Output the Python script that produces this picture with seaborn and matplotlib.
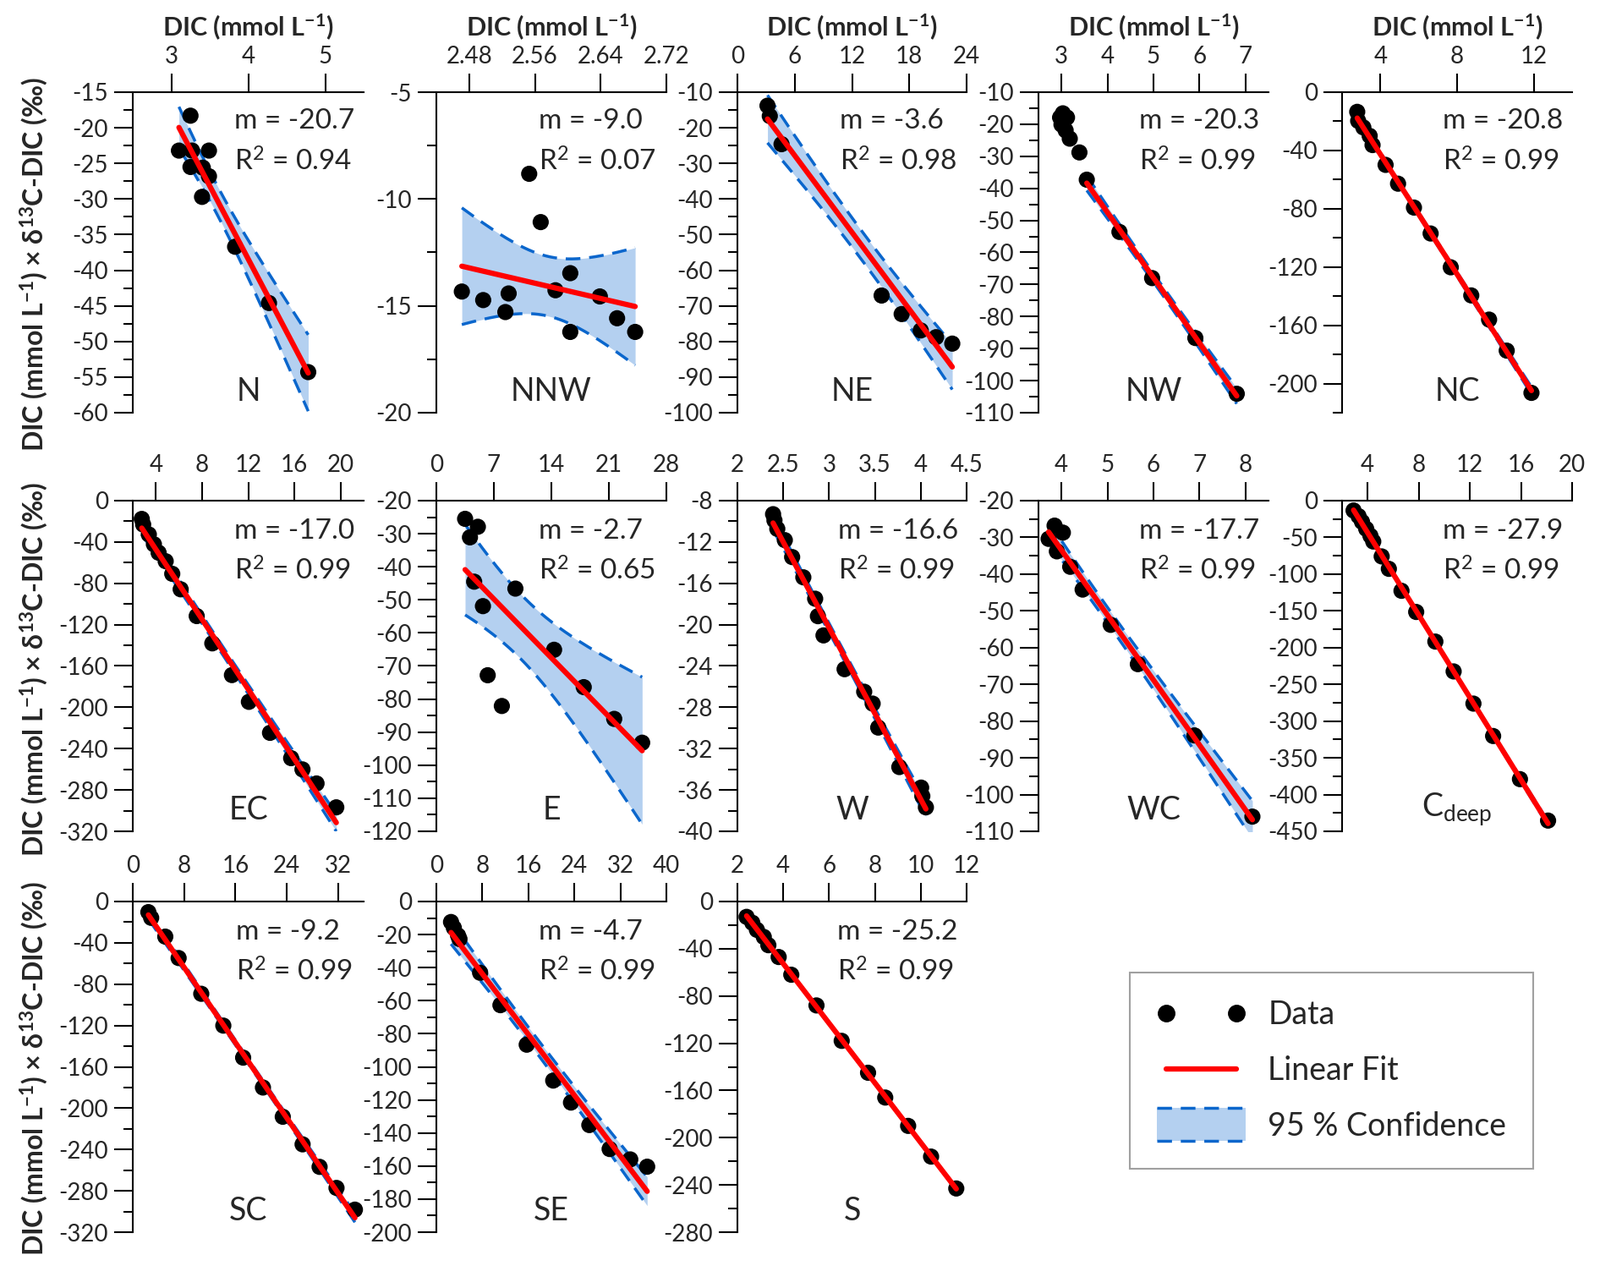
import math
import numpy as np
import matplotlib
matplotlib.use("Agg")
import matplotlib.pyplot as plt
from matplotlib.lines import Line2D
from matplotlib.patches import Rectangle, Patch
from matplotlib.legend_handler import HandlerBase
from matplotlib.ticker import MultipleLocator, FixedLocator, FuncFormatter
import seaborn as sns

# values: DIC (mmol L-1) and DIC x d13C-DIC (permil)
n_dic = [3.25, 3.10, 3.27, 3.49, 3.25, 3.41, 3.49, 3.40, 3.83, 4.27, 4.78]
n_val = [-18.3, -23.2, -23.2, -23.2, -25.5, -25.6, -26.8, -29.7, -36.7, -44.6, -54.3]

nnw_dic = [2.471, 2.497, 2.524, 2.528, 2.553, 2.567, 2.585, 2.603, 2.603, 2.639, 2.660, 2.682]
nnw_val = [-14.33, -14.73, -15.29, -14.42, -8.82, -11.08, -14.27, -13.47, -16.22, -14.56, -15.58, -16.22]

ne_dic = [3.15, 3.39, 4.62, 15.1, 17.2, 19.2, 20.8, 22.5]
ne_val = [-13.8, -16.7, -24.6, -67.1, -72.3, -76.9, -78.8, -80.6]

nw_dic = [3.03, 3.12, 2.97, 3.00, 3.09, 3.18, 3.39, 3.55, 4.26, 4.97, 5.91, 6.81]
nw_val = [-16.6, -17.9, -17.9, -20.1, -21.9, -24.5, -28.8, -37.3, -53.6, -68.0, -86.7, -104.1]

nc_dic = [2.79, 2.84, 3.11, 3.44, 3.59, 4.27, 4.92, 5.75, 6.62, 7.67, 8.74, 9.67, 10.59, 11.88]
nc_val = [-13.5, -19.7, -24.2, -30.0, -36.3, -49.9, -62.8, -79.2, -97.0, -120.2, -139.5, -156.1, -177.4, -206.4]

ec_dic = [2.78, 2.90, 3.39, 3.83, 4.24, 4.85, 5.42, 6.15, 7.54, 8.89, 10.59, 12.06, 13.89,
          15.72, 16.70, 17.92, 19.63]
ec_val = [-17.7, -23.1, -32.7, -42.2, -50.4, -58.6, -70.8, -85.8, -111.7, -138.1, -168.8, -194.7,
          -224.7, -249.2, -260.1, -273.7, -296.8]

e_dic = [3.50, 5.05, 4.09, 4.60, 5.67, 6.25, 7.97, 9.62, 14.33, 17.94, 21.65, 25.05]
e_val = [-25.5, -27.9, -31.1, -44.5, -51.9, -72.8, -82.1, -46.6, -65.1, -76.4, -86.0, -93.2]

w_dic = [2.389, 2.404, 2.435, 2.517, 2.597, 2.719, 2.848, 2.878, 2.939, 3.169, 3.383, 3.475,
         3.536, 3.766, 4.004, 4.017, 4.056]
w_val = [-9.31, -9.91, -10.73, -11.82, -13.46, -15.42, -17.49, -19.18, -21.04, -24.31, -26.49,
         -27.64, -29.96, -33.78, -35.77, -36.59, -37.68]

wc_dic = [3.85, 4.03, 3.72, 3.90, 4.19, 4.46, 5.07, 5.66, 6.89, 8.15]
wc_val = [-26.8, -28.7, -30.4, -33.8, -38.0, -44.2, -53.8, -64.5, -83.9, -106.0]

cd_dic = [2.90, 3.29, 3.56, 3.89, 4.22, 4.44, 5.10, 5.66, 6.65, 7.80, 9.30, 10.73, 12.28, 13.82,
          15.92, 18.12]
cd_val = [-13.4, -21.1, -28.8, -38.4, -47.9, -55.6, -75.9, -92.8, -122.7, -151.5, -191.8, -232.4,
          -276.2, -320.3, -379.0, -435.4]

sc_dic = [2.43, 2.87, 5.07, 7.15, 10.68, 14.12, 17.21, 20.30, 23.39, 26.48, 29.13, 31.77, 34.64]
sc_val = [-10.3, -15.8, -34.0, -54.7, -89.3, -120.1, -151.1, -180.0, -208.3, -235.0, -256.8,
          -277.2, -298.2]

se_dic = [2.55, 3.04, 3.78, 4.02, 7.61, 11.14, 15.71, 20.32, 23.41, 26.60, 30.13, 33.72, 36.66]
se_val = [-12.4, -15.9, -20.6, -22.7, -43.1, -62.7, -86.6, -108.3, -121.6, -135.2, -149.7,
          -156.0, -160.4]

s_dic = [2.40, 2.65, 2.85, 3.15, 3.35, 3.80, 4.35, 5.45, 6.55, 7.70, 8.45, 9.45, 10.45, 11.55]
s_val = [-13, -18, -24, -30, -37, -47, -62, -88, -118, -145, -166, -190, -216, -243]

names = ["N", "NNW", "NE", "NW", "NC", "EC", "E", "W", "WC", "C$_{deep}$", "SC", "SE", "S"]
slopes = ["-20.7", "-9.0", "-3.6", "-20.3", "-20.8", "-17.0", "-2.7", "-16.6", "-17.7",
          "-27.9", "-9.2", "-4.7", "-25.2"]
r_squared = ["0.94", "0.07", "0.98", "0.99", "0.99", "0.99", "0.65", "0.99", "0.99",
             "0.99", "0.99", "0.99", "0.99"]
# NW: the first cluster of points is left out of the fit
fit_min = [None, None, None, 3.5, None, None, None, None, None, None, None, None, None]

all_dic = [n_dic, nnw_dic, ne_dic, nw_dic, nc_dic, ec_dic, e_dic, w_dic, wc_dic, cd_dic,
           sc_dic, se_dic, s_dic]
all_val = [n_val, nnw_val, ne_val, nw_val, nc_val, ec_val, e_val, w_val, wc_val, cd_val,
           sc_val, se_val, s_val]

# axis setup per panel: xlim, xticks, ylim, y major step, y minor step
axis_cfg = [
    ((2.5, 5.5), [3, 4, 5], (-60, -15), 5, 2.5),
    ((2.44, 2.72), [2.48, 2.56, 2.64, 2.72], (-20, -5), 5, 2.5),
    ((0, 24), [0, 6, 12, 18, 24], (-100, -10), 10, 5),
    ((2.5, 7.5), [3, 4, 5, 6, 7], (-110, -10), 10, 5),
    ((2, 14), [4, 8, 12], (-220, 0), 40, 20),
    ((2, 22), [4, 8, 12, 16, 20], (-320, 0), 40, 20),
    ((0, 28), [0, 7, 14, 21, 28], (-120, -20), 10, 5),
    ((2, 4.5), [2, 2.5, 3, 3.5, 4, 4.5], (-40, -8), 4, 2),
    ((3.5, 8.5), [4, 5, 6, 7, 8], (-110, -20), 10, 5),
    ((2, 20), [4, 8, 12, 16, 20], (-450, 0), 50, 25),
    ((0, 36), [0, 8, 16, 24, 32], (-320, 0), 40, 20),
    ((0, 40), [0, 8, 16, 24, 32, 40], (-200, 0), 20, 10),
    ((2, 12), [2, 4, 6, 8, 10, 12], (-280, 0), 40, 20),
]

W_PX, H_PX = 1892, 1497
COL_PX = [(157, 430), (516, 788), (872, 1143), (1228, 1500), (1587, 1859)]
ROW_PX = [(109, 488), (592, 983), (1066, 1457)]
YLABEL_Y = [312, 791, 1263]

BAND = "#b4d0f0"
DASH = "#0a66cc"
FIT = "#ff0000"

sns.set_style("ticks")
plt.rcParams["font.family"] = ["Lato", "DejaVu Sans"]
plt.rcParams["axes.unicode_minus"] = False
plt.rcParams["mathtext.default"] = "regular"
plt.rcParams["axes.linewidth"] = 1.5


def px_rect(left, top, right, bottom):
    """ Convert a pixel box (origin top-left) to a figure fraction rect """
    return [left / W_PX, 1 - bottom / H_PX, (right - left) / W_PX, (bottom - top) / H_PX]


def t_critical(dof, q=0.975):
    """ Student t quantile by integrating the density
    :param dof: degrees of freedom
    :return: t value
    """
    t = np.linspace(0, 40, 400001)
    c = math.exp(math.lgamma((dof + 1) / 2) - math.lgamma(dof / 2)) / math.sqrt(dof * math.pi)
    pdf = c * (1 + t ** 2 / dof) ** (-(dof + 1) / 2)
    cdf = 0.5 + np.concatenate([[0], np.cumsum((pdf[1:] + pdf[:-1]) / 2 * np.diff(t))])
    return float(np.interp(q, cdf, t))


def confidence_band(x, y, grid):
    """ 95 % confidence band of a least squares line
    :return: lower edge, upper edge
    """
    n = len(x)
    slope, icpt = np.polyfit(x, y, 1)
    resid = y - (slope * x + icpt)
    s = math.sqrt(np.sum(resid ** 2) / (n - 2))
    sxx = np.sum((x - x.mean()) ** 2)
    half = t_critical(n - 2) * s * np.sqrt(1 / n + (grid - x.mean()) ** 2 / sxx)
    fit = slope * grid + icpt
    return fit - half, fit + half


def style_axis(ax, xlim, xticks, ylim, ystep, yminor):
    """ Top x axis, left y axis, outward ticks """
    for side in ["right", "bottom"]:
        ax.spines[side].set_visible(False)
    for side in ["left", "top"]:
        ax.spines[side].set_color("black")
        ax.spines[side].set_linewidth(1.5)
    ax.xaxis.tick_top()
    ax.xaxis.set_major_locator(FixedLocator(xticks))
    ax.xaxis.set_major_formatter(FuncFormatter(lambda v, p: "%g" % round(v, 3)))
    ax.yaxis.set_major_locator(MultipleLocator(ystep))
    ax.yaxis.set_minor_locator(MultipleLocator(yminor))
    ax.yaxis.set_major_formatter(FuncFormatter(lambda v, p: "%g" % round(v, 3)))
    ax.tick_params(axis="both", which="major", direction="out", length=16, width=1.5,
                   labelsize=20, pad=5, color="black")
    ax.tick_params(axis="y", which="minor", direction="out", length=8, width=1.5, color="black")
    ax.tick_params(axis="x", which="both", top=True, bottom=False, labeltop=True, labelbottom=False)
    ax.set_xlim(*xlim)
    ax.set_ylim(*ylim)
    ax.set_xlabel("")
    ax.set_ylabel("")
    ax.grid(False)


def draw_panel(ax, dic, val, fmin, name, slope, r2):
    """ Scatter, linear fit and 95 % band for one region """
    dic = np.asarray(dic, dtype=float)
    val = np.asarray(val, dtype=float)
    keep = np.ones(len(dic), dtype=bool) if fmin is None else dic >= fmin
    fx, fy = dic[keep], val[keep]

    grid = np.linspace(fx.min(), fx.max(), 200)
    lo, hi = confidence_band(fx, fy, grid)
    ax.fill_between(grid, lo, hi, color=BAND, lw=0, zorder=1)
    for edge in (lo, hi):
        ax.plot(grid, edge, color=DASH, lw=2.5, dashes=(5, 3), zorder=2)

    sns.scatterplot(x=dic, y=val, ax=ax, color="black", s=190, edgecolor="none", zorder=3)
    sns.regplot(x=fx, y=fy, ax=ax, scatter=False, ci=None,
                line_kws=dict(color=FIT, lw=4.5, zorder=4, solid_capstyle="round"))

    ax.text(0.70, 0.845, "m = %s\nR$^2$ = %s" % (slope, r2), transform=ax.transAxes,
            ha="center", va="center", multialignment="left", fontsize=24, linespacing=1.6)
    ax.text(0.5, 0.065, name, transform=ax.transAxes, ha="center", va="center", fontsize=27)


class BandHandler(HandlerBase):
    """ Legend key: light blue patch with dashed top and bottom edges """

    def create_artists(self, legend, orig_handle, xdescent, ydescent, width, height, fontsize, trans):
        x0 = -xdescent
        yc = -ydescent + height / 2
        h = height * 1.5
        rect = Rectangle((x0, yc - h / 2), width, h, facecolor=BAND, edgecolor="none", transform=trans)
        top = Line2D([x0, x0 + width], [yc + h / 2] * 2, color=DASH, lw=2.5, dashes=(5, 3), transform=trans)
        bot = Line2D([x0, x0 + width], [yc - h / 2] * 2, color=DASH, lw=2.5, dashes=(5, 3), transform=trans)
        return [rect, top, bot]


fig = plt.figure(figsize=(W_PX / 100, H_PX / 100), dpi=100)

for i in range(13):
    row, col = divmod(i, 5)
    left, right = COL_PX[col]
    top, bottom = ROW_PX[row]
    ax = fig.add_axes(px_rect(left, top, right, bottom))
    draw_panel(ax, all_dic[i], all_val[i], fit_min[i], names[i], slopes[i], r_squared[i])
    style_axis(ax, *axis_cfg[i])
    if row == 0:
        ax.xaxis.set_label_position("top")
        ax.set_xlabel("DIC (mmol L$^{-1}$)", fontsize=22, fontweight="bold", labelpad=8)

for yc in YLABEL_Y:
    fig.text(40 / W_PX, 1 - yc / H_PX, "DIC (mmol L$^{-1}$) × δ$^{13}$C-DIC (‰)", rotation=90,
             ha="center", va="center", fontsize=23, fontweight="bold")

handles = [Line2D([], [], marker="o", ls="none", color="black", markersize=14),
           Line2D([], [], color=FIT, lw=4.5),
           Patch()]
labels = ["Data", "Linear Fit", "95 % Confidence"]
leg = fig.legend(handles, labels, loc="upper left", bbox_to_anchor=(1336 / W_PX, 1 - 1150 / H_PX),
                 borderaxespad=0, numpoints=2, fontsize=27, handlelength=2.8, handletextpad=0.7,
                 labelspacing=0.8, borderpad=0.85, fancybox=False, framealpha=1,
                 edgecolor="#a0a0a0", handler_map={Patch: BandHandler()})
leg.get_frame().set_linewidth(1.5)

fig.savefig("out.png", dpi=100)
